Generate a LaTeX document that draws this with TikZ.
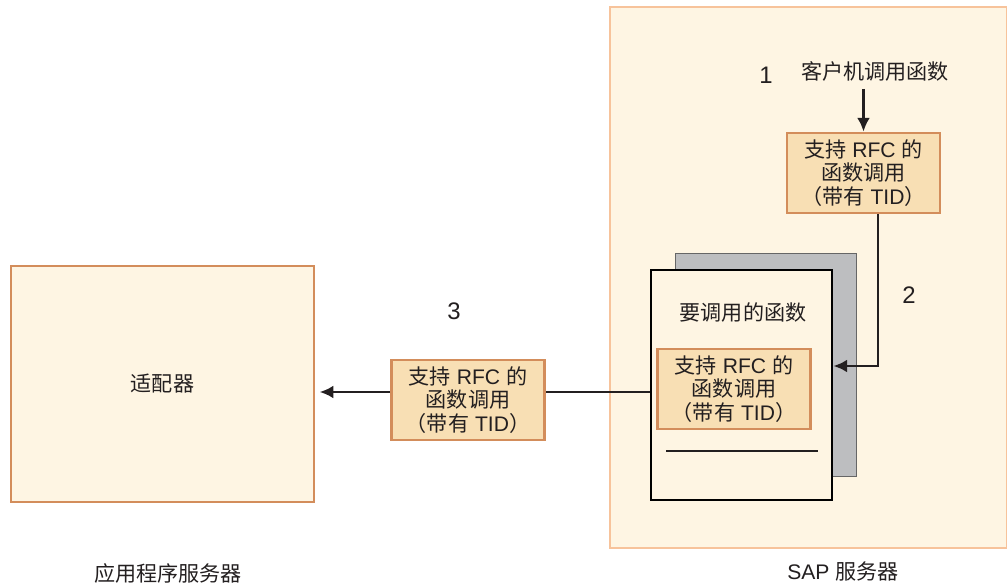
\documentclass[tikz,border=0pt]{standalone}
\usepackage{fontspec}
\setmainfont{Liberation Sans}
\newfontfamily\cjk{Noto Sans CJK SC}
\usetikzlibrary{arrows.meta}

\definecolor{sapfill}{HTML}{FEF5E3}
\definecolor{sapline}{HTML}{F7C39B}
\definecolor{boxline}{HTML}{D38D5B}
\definecolor{rfcfill}{HTML}{F8DFB4}
\definecolor{pagegrey}{HTML}{BDBEC0}
\definecolor{textgrey}{HTML}{231F20}

\newcommand{\rfclines}{{\cjk 支持} RFC {\cjk 的}\\{\cjk 函数调用}\\{\cjk （带有} TID{\cjk ）}}

\tikzset{
    txt/.style={text=textgrey, font=\fontsize{15}{16.5}\selectfont},
    rfcbox/.style={txt, draw=boxline, fill=rfcfill, line width=2pt, inner sep=0pt,
        minimum width=3.825cm, minimum height=2cm, align=center},
    num/.style={text=textgrey, font=\fontsize{17}{17}\selectfont},
    link/.style={line width=1.8pt, draw=textgrey},
    tip/.style={-{Latex[length=0.34cm,width=0.32cm]}}
}

\begin{document}
\begin{tikzpicture}[x=0.025cm, y=-0.025cm]
        \useasboundingbox (0,0) rectangle (1007,584);
        % the SAP server area
        \draw[fill=sapfill, draw=sapline, line width=0.8pt] (610,7) rectangle (1006.5,548);
        \node[txt] (sap-label) at (843,571) {SAP {\cjk 服务器}};

        % the adapter on the application server
        \node[txt, draw=boxline, fill=sapfill, line width=2pt, minimum width=7.575cm, minimum height=5.9cm]
            (adapter) at (162.5,384) {\cjk 适配器};
        \node[txt] (app-label) at (168,573) {\cjk 应用程序服务器};

        % step 1: the client call
        \node[num] (step-one) at (766,75) {1};
        \node[txt] (client-call) at (875,71) {\cjk 客户机调用函数};
        \node[rfcbox] (rfc-top) at (863.5,173) {\rfclines};
        \draw[link, tip] (rfc-top.north |- 0,89) -- (rfc-top.north);

        % the function to be called (two pages)
        \node[draw=black!60, fill=pagegrey, line width=0.6pt, minimum width=4.525cm, minimum height=5.575cm]
            (doc-back) at (765.5,364.5) {};
        \node[draw=black, fill=sapfill, line width=2pt, minimum width=4.525cm, minimum height=5.75cm]
            (doc-front) at (741.5,385) {};
        \node[txt] (doc-title) at (743,312) {\cjk 要调用的函数};
        \node[rfcbox] (rfc-inner) at (734,389) {\rfclines};
        \draw[link] (666,451) -- (818,451);

        % step 2: into the function
        \node[num] (step-two) at (909,295) {2};
        \coordinate (bend) at (878,366);
        \draw[link, tip] (rfc-top.south -| bend) -- (bend) -- (bend -| doc-front.east);

        % step 3: back to the adapter
        \node[num] (step-three) at (454,311) {3};
        \node[rfcbox] (rfc-mid) at (468,400) {\rfclines};
        \coordinate (wire) at (0,392);
        \draw[link] (doc-front.west |- wire) -- (rfc-mid.east |- wire);
        \draw[link, tip, shorten >=3pt] (rfc-mid.west |- wire) -- (adapter.east |- wire);
\end{tikzpicture}
\end{document}
